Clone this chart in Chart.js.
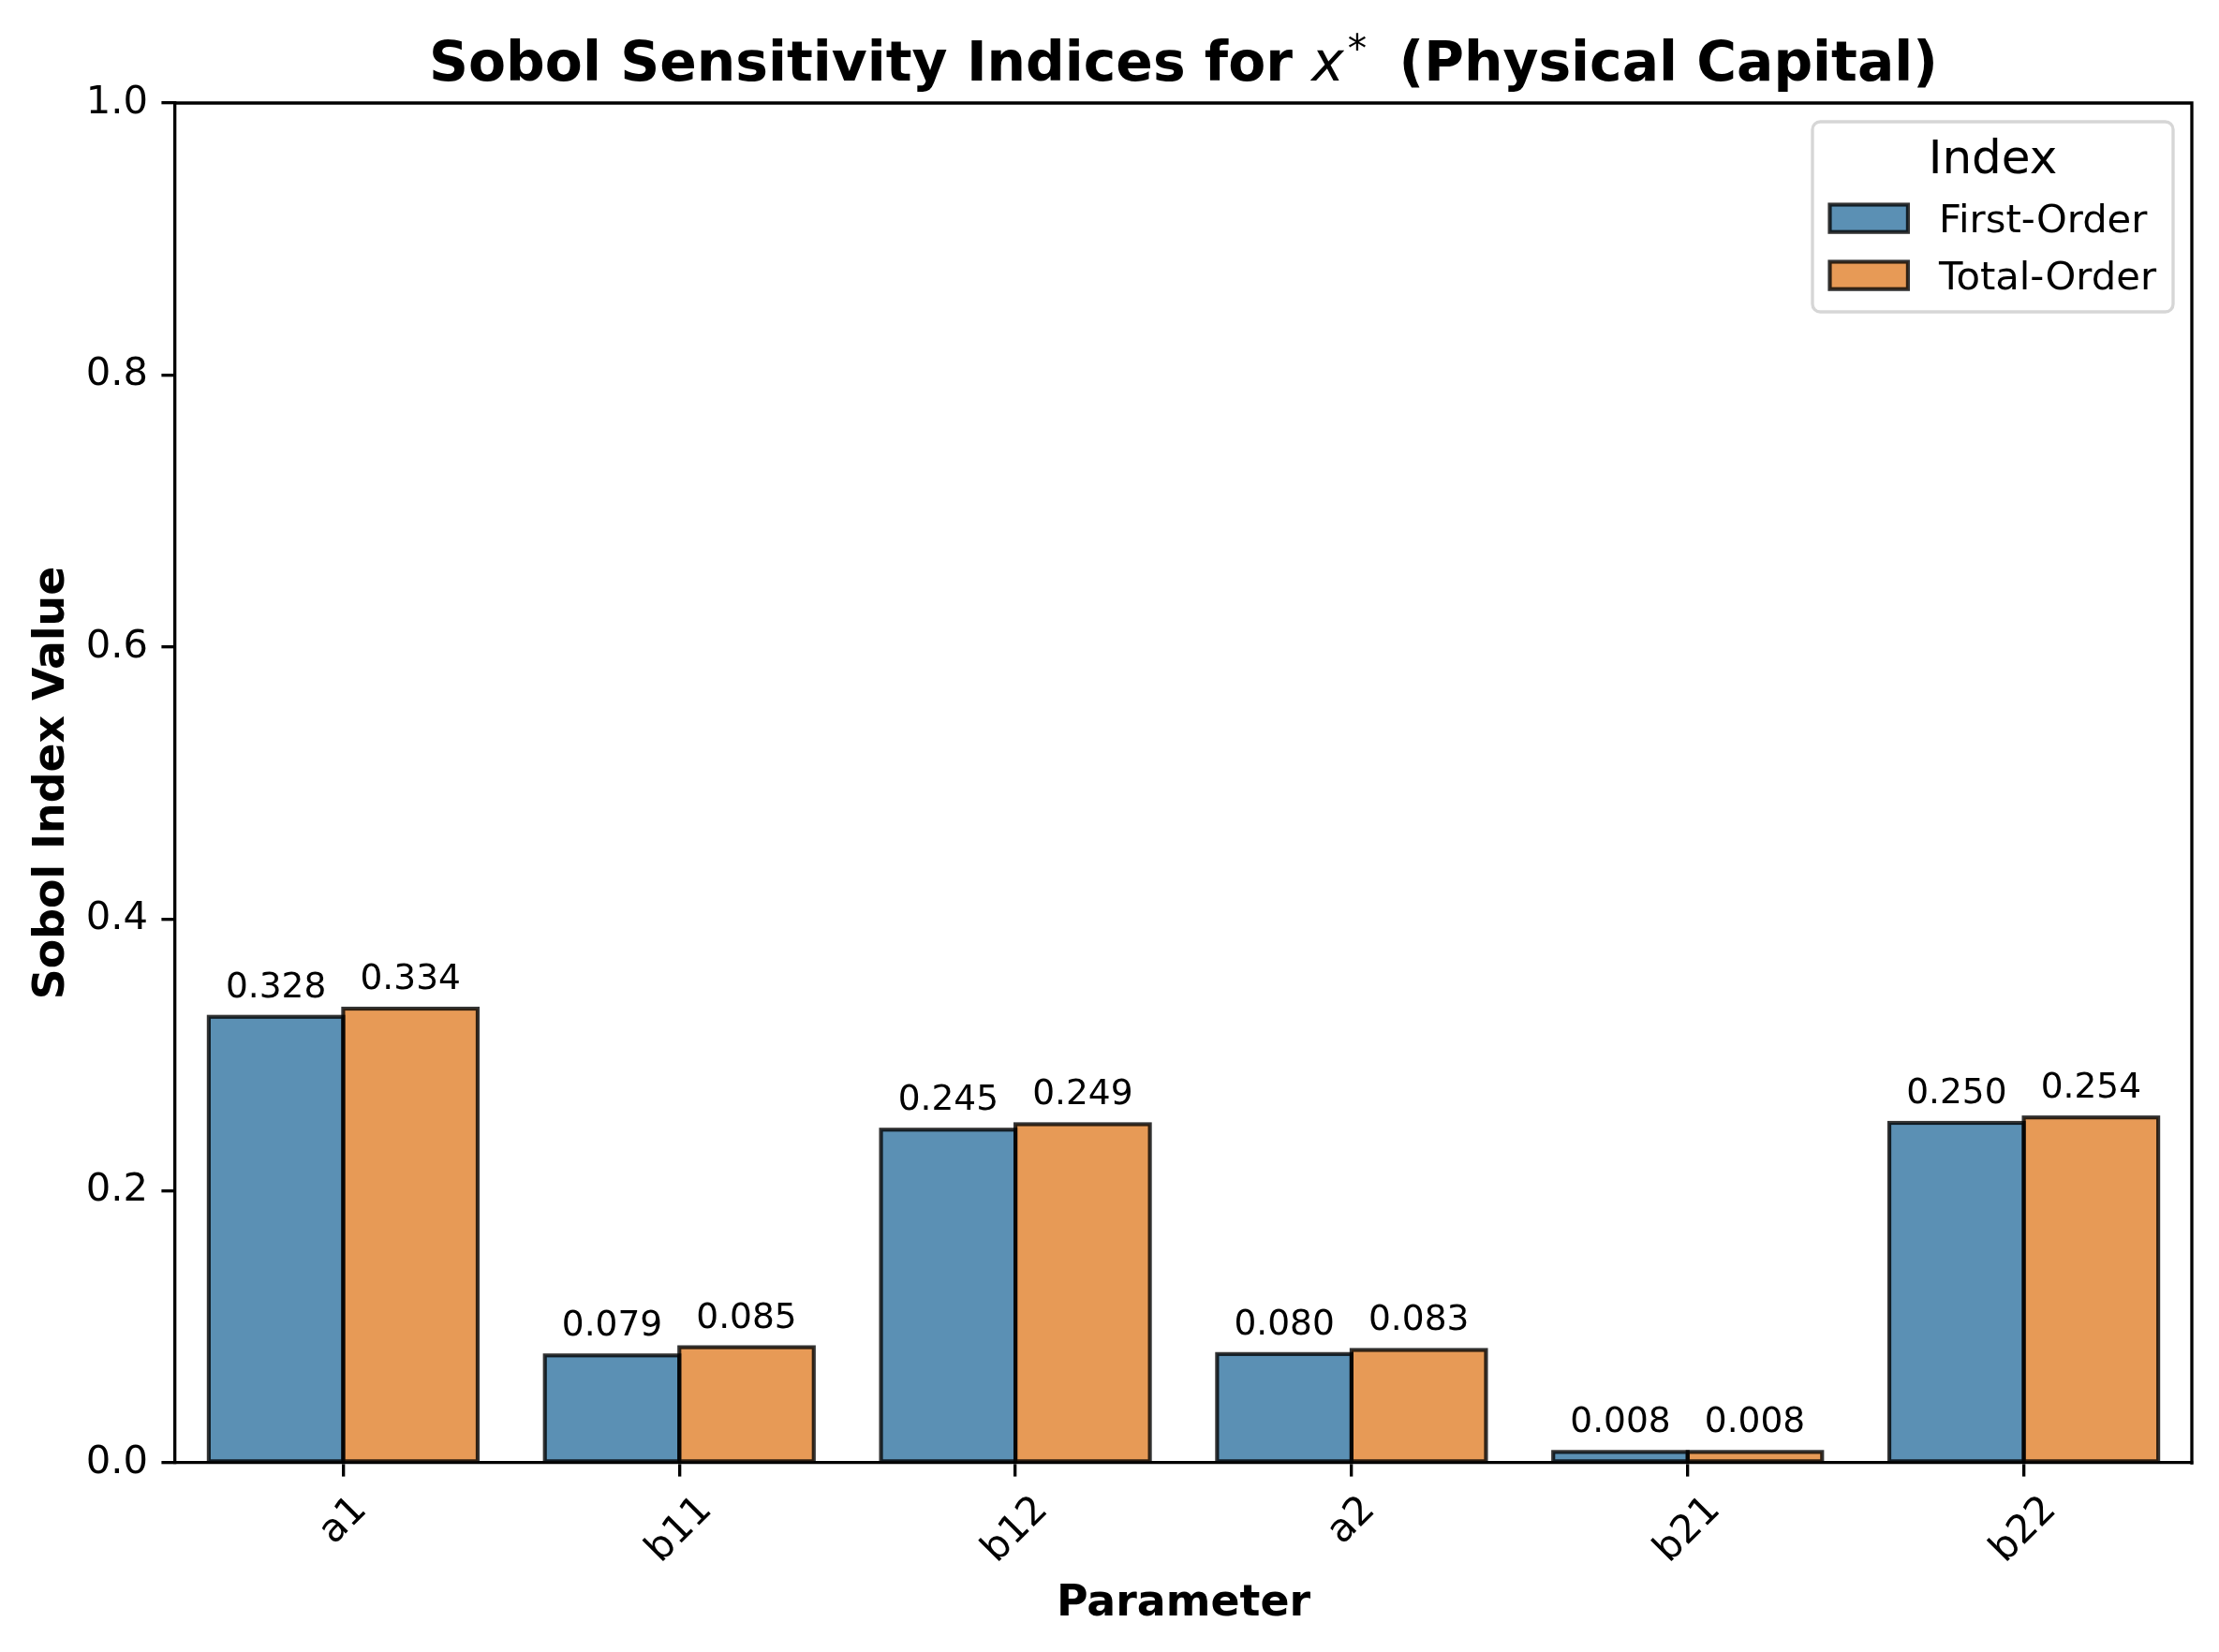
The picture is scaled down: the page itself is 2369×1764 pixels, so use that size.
<!DOCTYPE html>
<html><head><meta charset="utf-8">
<script src="https://cdn.jsdelivr.net/npm/chart.js@4.4.1/dist/chart.umd.min.js"></script>
<style>html,body{margin:0;padding:0;background:#fff}#wrap{width:2369px;height:1764px;position:relative}canvas{display:block}</style>
</head><body><div id="wrap"><canvas id="c" width="2369" height="1764"></canvas></div>
<script>
// ---- data ----
const categories = ['a1', 'b11', 'b12', 'a2', 'b21', 'b22'];
const seriesNames = ['First-Order', 'Total-Order'];
const firstOrder = [0.328, 0.079, 0.245, 0.080, 0.008, 0.250];
const totalOrder = [0.334, 0.085, 0.249, 0.083, 0.008, 0.254];
const yTickValues = [0.0, 0.2, 0.4, 0.6, 0.8, 1.0];
const titleBefore = 'Sobol Sensitivity Indices for ';
const titleMath = 'x';
const titleSup = '*';
const titleAfter = ' (Physical Capital)';
const xAxisTitle = 'Parameter';
const yAxisTitle = 'Sobol Index Value';
const legendTitle = 'Index';

// ---- styles ----
const FONT = '"DejaVu Sans", sans-serif';
const fills = ['rgb(91,144,180)', 'rgb(231,154,86)'];
const edge = 'rgba(0,0,0,0.8)';
const EDGE_W = 4.17;
const SPINE_W = 3.33;
const TICK_LEN = 14.6;

const decor = {
  id: 'decor',
  afterDatasetsDraw(chart) {
    const ctx = chart.ctx;
    ctx.save();
    chart.data.datasets.forEach((ds, di) => {
      const meta = chart.getDatasetMeta(di);
      meta.data.forEach((el, i) => {
        const p = el.getProps(['x', 'y', 'base', 'width'], true);
        ctx.lineWidth = EDGE_W;
        ctx.strokeStyle = edge;
        ctx.lineJoin = 'miter';
        ctx.strokeRect(p.x - p.width / 2, p.y, p.width, p.base - p.y);
      });
    });
    chart.data.datasets.forEach((ds, di) => {
      const meta = chart.getDatasetMeta(di);
      meta.data.forEach((el, i) => {
        const p = el.getProps(['x', 'y'], true);
        ctx.fillStyle = '#000';
        ctx.font = '37.5px ' + FONT;
        ctx.textAlign = 'center';
        ctx.textBaseline = 'alphabetic';
        ctx.fillText(ds.data[i].toFixed(3), p.x, p.y - 21);
      });
    });
    ctx.restore();
  },
  afterDraw(chart) {
    const ctx = chart.ctx;
    const a = chart.chartArea;
    ctx.save();
    // top & right spines
    ctx.strokeStyle = '#000';
    ctx.lineWidth = SPINE_W;
    ctx.beginPath();
    ctx.moveTo(a.left - SPINE_W / 2, a.top);
    ctx.lineTo(a.right, a.top);
    ctx.lineTo(a.right, a.bottom + SPINE_W / 2);
    ctx.stroke();

    const cx = (a.left + a.right) / 2;
    const cy = (a.top + a.bottom) / 2;
    ctx.fillStyle = '#000';

    // title
    const fB = 'bold 58.3px ' + FONT;
    const fI = 'oblique 58.3px ' + FONT;
    const fS = '40.8px ' + FONT;
    const supGapL = 4, supGapR = 14;
    ctx.font = fB; const w1 = ctx.measureText(titleBefore).width;
    ctx.font = fI; const w2 = ctx.measureText(titleMath).width;
    ctx.font = fS; const w3 = ctx.measureText(titleSup).width + supGapL + supGapR;
    ctx.font = fB; const w4 = ctx.measureText(titleAfter).width;
    let tx = cx - (w1 + w2 + w3 + w4) / 2;
    const tb = 86;
    ctx.textAlign = 'left'; ctx.textBaseline = 'alphabetic';
    ctx.font = fB; ctx.fillText(titleBefore, tx, tb); tx += w1;
    ctx.font = fI; ctx.fillText(titleMath, tx, tb); tx += w2;
    ctx.font = fS; ctx.fillText(titleSup, tx + supGapL, tb - 20); tx += w3;
    ctx.font = fB; ctx.fillText(titleAfter, tx, tb);

    // axis titles
    ctx.font = 'bold 45.8px ' + FONT;
    ctx.textAlign = 'center';
    ctx.fillText(xAxisTitle, cx, 1725);
    ctx.save();
    ctx.translate(68, cy);
    ctx.rotate(-Math.PI / 2);
    ctx.fillText(yAxisTitle, 0, 0);
    ctx.restore();

    // x tick labels (rotated 45, centered at tick)
    const xs = chart.scales.x;
    const f = 41.7;
    ctx.font = f + 'px ' + FONT;
    categories.forEach((lab, i) => {
      const px = xs.getPixelForTick(i);
      const w = ctx.measureText(lab).width;
      const top = a.bottom + TICK_LEN + 14.6;
      const ccy = top + (w + 40) * Math.SQRT1_2 / 2;
      ctx.save();
      ctx.translate(px, ccy);
      ctx.rotate(-Math.PI / 4);
      ctx.textAlign = 'center';
      ctx.textBaseline = 'alphabetic';
      ctx.fillText(lab, 0, 0.276 * f);
      ctx.restore();
    });

    // legend
    const lx = 1935, ly = 130, lw = 385, lh = 203, r = 8.3;
    ctx.beginPath();
    ctx.roundRect(lx, ly, lw, lh, r);
    ctx.fillStyle = 'rgba(255,255,255,0.8)';
    ctx.fill();
    ctx.strokeStyle = 'rgb(214,214,214)';
    ctx.lineWidth = SPINE_W;
    ctx.stroke();
    ctx.fillStyle = '#000';
    ctx.font = '50px ' + FONT;
    ctx.textAlign = 'center';
    ctx.fillText(legendTitle, lx + lw / 2, 185);
    ctx.font = '41.7px ' + FONT;
    ctx.textAlign = 'left';
    seriesNames.forEach((nm, i) => {
      const py = 218.5 + i * 61;
      ctx.fillStyle = fills[i];
      ctx.fillRect(1953.5, py, 83.4, 29.2);
      ctx.strokeStyle = edge;
      ctx.lineWidth = EDGE_W;
      ctx.strokeRect(1953.5, py, 83.4, 29.2);
      ctx.fillStyle = '#000';
      ctx.fillText(nm, 2070, 248 + i * 61);
    });
    ctx.restore();
  }
};

new Chart(document.getElementById('c'), {
  type: 'bar',
  data: {
    labels: categories,
    datasets: [
      { label: seriesNames[0], data: firstOrder, backgroundColor: fills[0], borderWidth: 0, categoryPercentage: 0.8, barPercentage: 1.0 },
      { label: seriesNames[1], data: totalOrder, backgroundColor: fills[1], borderWidth: 0, categoryPercentage: 0.8, barPercentage: 1.0 }
    ]
  },
  options: {
    responsive: false,
    devicePixelRatio: 1,
    animation: false,
    layout: { padding: { top: 110, right: 29, left: 0, bottom: 0 } },
    plugins: { legend: { display: false }, tooltip: { enabled: false }, title: { display: false } },
    scales: {
      x: {
        grid: { display: true, drawOnChartArea: false, drawTicks: true, offset: false, tickLength: TICK_LEN, tickWidth: SPINE_W, tickColor: '#000', lineWidth: SPINE_W, color: '#000' },
        border: { display: true, color: '#000', width: SPINE_W },
        ticks: { display: false },
        afterFit(s) { s.height = 202; }
      },
      y: {
        min: 0, max: 1,
        afterBuildTicks(s) { s.ticks = yTickValues.map(v => ({ value: v })); },
        grid: { display: true, drawOnChartArea: false, drawTicks: true, tickLength: TICK_LEN, tickWidth: SPINE_W, tickColor: '#000', lineWidth: SPINE_W, color: '#000' },
        border: { display: true, color: '#000', width: SPINE_W },
        ticks: { color: '#000', font: { family: 'DejaVu Sans', size: 41.7 }, padding: 14.4, callback: v => Number(v).toFixed(1) },
        afterFit(s) { s.width = 187; }
      }
    }
  },
  plugins: [decor]
});
</script>
</body></html>
